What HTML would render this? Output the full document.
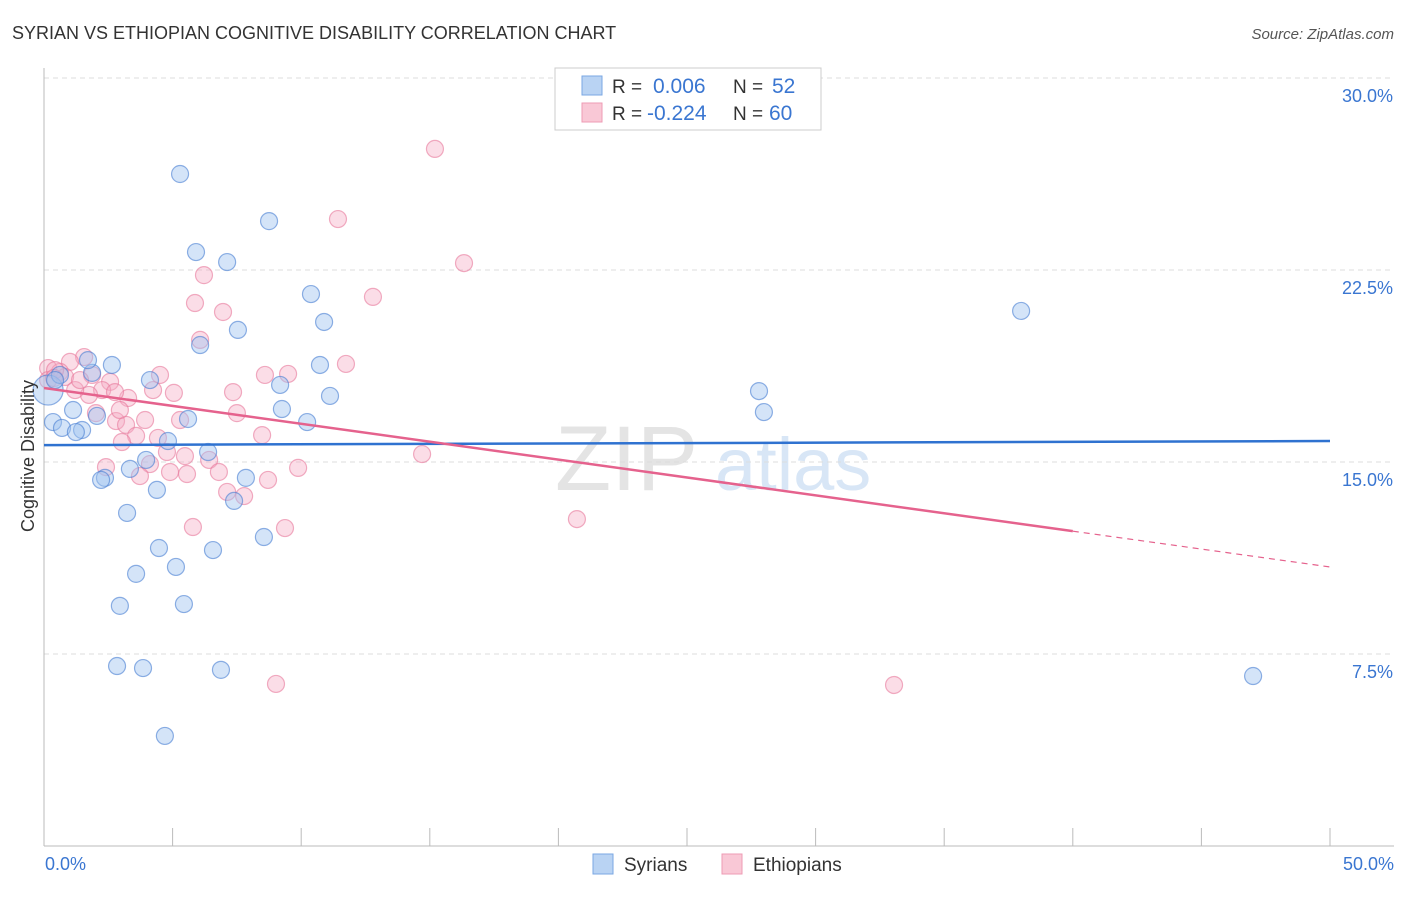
<!DOCTYPE html>
<html><head><meta charset="utf-8"><style>
body{margin:0;background:#fff;font-family:"Liberation Sans",sans-serif}
svg text{font-family:"Liberation Sans",sans-serif}
</style></head><body>
<svg id="chart" width="1406" height="892" xmlns="http://www.w3.org/2000/svg">
<text x="12" y="39" font-size="18" fill="#333">SYRIAN VS ETHIOPIAN COGNITIVE DISABILITY CORRELATION CHART</text>
<text x="1394" y="39" font-size="15" fill="#555" text-anchor="end" font-style="italic">Source: ZipAtlas.com</text>
<g><text x="555" y="490" font-size="92" fill="#e4e4e4" font-family="Liberation Serif">ZIP</text><text x="715" y="490" font-size="74" fill="#d8e6f6">atlas</text></g>
<g id="grid"></g>
<g id="axes"></g>
<g id="pts"></g>
<g id="trend"></g>
<text transform="translate(34,456) rotate(-90)" font-size="18" fill="#333" text-anchor="middle">Cognitive Disability</text>
<g>
<rect x="555" y="68" width="266" height="62" fill="#fff" stroke="#ccc"/>
<rect x="582" y="76" width="20" height="19" fill="#b9d3f3" stroke="#7aa7e3"/>
<rect x="582" y="103" width="20" height="19" fill="#f9c8d6" stroke="#ee9bb4"/>
<text x="612" y="93" font-size="19" fill="#333">R =</text><text x="653" y="93" font-size="21" fill="#3a76d1">0.006</text>
<text x="733" y="93" font-size="19" fill="#333">N =</text><text x="772" y="93" font-size="21" fill="#3a76d1">52</text>
<text x="612" y="120" font-size="19" fill="#333">R =</text><text x="647" y="120" font-size="21" fill="#3a76d1">-0.224</text>
<text x="733" y="120" font-size="19" fill="#333">N =</text><text x="769" y="120" font-size="21" fill="#3a76d1">60</text>
</g>
<g>
<rect x="593" y="854" width="20" height="20" fill="#b9d3f3" stroke="#7aa7e3"/>
<text x="624" y="871" font-size="19" fill="#333">Syrians</text>
<rect x="722" y="854" width="20" height="20" fill="#f9c8d6" stroke="#ee9bb4"/>
<text x="753" y="871" font-size="19" fill="#333">Ethiopians</text>
</g>
</svg>
<script>
const xTicks=[0,5,10,15,20,25,30,35,40,45,50];
const yTicks=[7.5,15,22.5,30];
const yTickLabels=["7.5%","15.0%","22.5%","30.0%"];
const syrX=[5.29,8.75,5.91,7.12,10.38,10.89,7.54,6.07,2.64,10.73,1.87,4.12,9.18,11.12,9.25,1.13,2.06,10.23,5.60,0.35,0.70,1.48,1.24,4.82,6.38,3.97,3.34,2.37,2.22,7.85,4.39,7.39,3.23,8.55,4.47,6.57,3.58,5.13,2.95,5.44,2.84,3.85,6.88,4.70,37.99,27.80,27.99,47.01,0.16,0.62,0.43,1.71];
const syrY=[26.25,24.41,23.20,22.81,21.56,20.47,20.16,19.57,18.79,18.79,18.48,18.20,18.01,17.58,17.07,17.03,16.80,16.56,16.68,16.56,16.33,16.25,16.17,15.82,15.39,15.08,14.73,14.38,14.30,14.38,13.91,13.48,13.01,12.07,11.64,11.56,10.63,10.90,9.38,9.45,7.03,6.95,6.88,4.30,20.90,17.77,16.95,6.64,17.81,18.40,18.20,18.98];
const ethX=[15.20,11.43,16.33,6.22,12.79,5.87,6.96,6.07,11.74,1.56,1.01,0.16,0.62,2.57,4.51,8.59,9.49,2.26,1.75,4.24,5.05,7.35,3.27,2.02,7.50,2.80,3.93,5.29,3.19,3.58,3.03,4.43,4.78,8.48,5.48,6.42,4.12,2.41,4.90,9.88,3.73,5.56,6.80,14.70,7.12,7.78,8.71,20.72,5.79,9.37,9.02,33.05,0.16,0.82,1.21,1.87,0.43,2.76,2.95,1.40,0.39];
const ethY=[27.23,24.49,22.77,22.30,21.45,21.21,20.86,19.77,18.83,19.10,18.91,18.67,18.52,18.13,18.40,18.40,18.44,17.81,17.62,17.81,17.70,17.73,17.50,16.91,16.91,16.60,16.64,16.64,16.45,16.02,15.78,15.94,15.39,16.05,15.23,15.08,14.92,14.80,14.61,14.77,14.45,14.53,14.61,15.31,13.83,13.67,14.30,12.77,12.46,12.42,6.33,6.29,18.20,18.32,17.81,18.40,18.59,17.73,17.03,18.20,18.28];
const syrTrend=[15.66,15.82];
const ethTrend=[17.89,10.90];
const NS="http://www.w3.org/2000/svg";
const sx=v=>44+v/50*1286;
const sy=v=>846-v*25.6;
function mk(tag,attrs,parent){const e=document.createElementNS(NS,tag);for(const k in attrs)e.setAttribute(k,attrs[k]);document.getElementById(parent).appendChild(e);return e;}
yTicks.forEach((t,i)=>{
 const l=mk('line',{x1:44,x2:1394,y1:sy(t),y2:sy(t),stroke:'#ddd','stroke-dasharray':'5,4'},'grid');
 
 
 const tx=mk('text',{x:1393,y:sy(t)+24,'font-size':18,fill:'#3a76d1','text-anchor':'end'},'grid');
 tx.textContent=yTickLabels[i];
 
 
});
const ax=mk('line',{x1:44,x2:44,y1:68,y2:846,stroke:'#bbb'},'axes');


const bx=mk('line',{x1:44,x2:1394,y1:846,y2:846,stroke:'#bbb'},'axes');


xTicks.forEach(t=>{
 const l=mk('line',{x1:sx(t),x2:sx(t),y1:828,y2:846,stroke:'#bbb'},'axes');
 
 
});
const x0=mk('text',{x:45,y:870,'font-size':18,fill:'#3a76d1'},'axes');x0.textContent='0.0%';


const x1=mk('text',{x:1394,y:870,'font-size':18,fill:'#3a76d1','text-anchor':'end'},'axes');x1.textContent='50.0%';


ethX.forEach((v,i)=>{
 const c=mk('circle',{cx:sx(v),cy:sy(ethY[i]),r:8.5,fill:'rgba(245,170,195,0.4)',stroke:'rgba(232,120,155,0.6)','stroke-width':1.2},'pts');
 
 
});
syrX.forEach((v,i)=>{
 const c=mk('circle',{cx:sx(v),cy:sy(syrY[i]),r:(i==48?15:8.5),fill:'rgba(160,195,240,0.45)',stroke:'rgba(70,125,210,0.6)','stroke-width':1.2},'pts');
 
 
});
const bt=mk('line',{x1:sx(0),x2:sx(50),y1:sy(syrTrend[0]),y2:sy(syrTrend[1]),stroke:'#2f72d0','stroke-width':2.5},'trend');


const e40=ethTrend[0]+(ethTrend[1]-ethTrend[0])*0.8;
const pt=mk('line',{x1:sx(0),x2:sx(40),y1:sy(ethTrend[0]),y2:sy(e40),stroke:'#e5628d','stroke-width':2.5},'trend');


const pd=mk('line',{x1:sx(40),x2:sx(50),y1:sy(e40),y2:sy(ethTrend[1]),stroke:'#e5628d','stroke-width':1.2,'stroke-dasharray':'6,5'},'trend');


</script>
</body></html>
